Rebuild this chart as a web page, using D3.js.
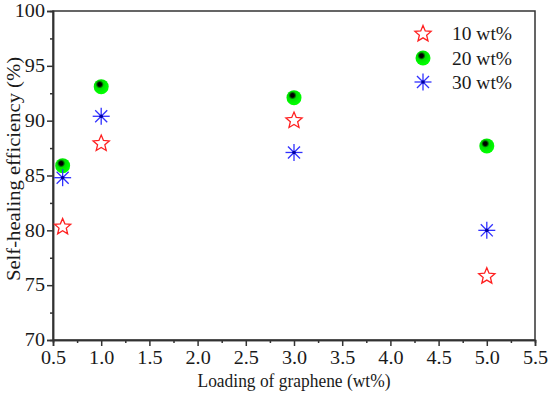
<!DOCTYPE html>
<html><head><meta charset="utf-8">
<script src="https://cdn.jsdelivr.net/npm/d3@7/dist/d3.min.js"></script>
<style>body{margin:0;background:#fff}svg{display:block} text{font-family:"Liberation Serif","Times New Roman",serif;}</style>
</head><body>
<svg id="c" width="550" height="396"></svg>
<script>
const loadings10 = [0.6, 1.0, 3.0, 5.0];
const values10 = [80.4, 88.0, 90.1, 75.9];
const loadings20 = [0.6, 1.0, 3.0, 5.0];
const values20 = [85.9, 93.1, 92.1, 87.7];
const loadings30 = [0.6, 1.0, 3.0, 5.0];
const values30 = [84.8, 90.4, 87.1, 80.0];
const seriesNames = ["10 wt%", "20 wt%", "30 wt%"];
const xTicks = [0.5,1.0,1.5,2.0,2.5,3.0,3.5,4.0,4.5,5.0,5.5];
const yTicks = [70,75,80,85,90,95,100];

const svg = d3.select("#c");
const m = {l:53, t:11, r:535, b:340};
const x = d3.scaleLinear().domain([0.5,5.5]).range([m.l,m.r]);
const y = d3.scaleLinear().domain([70,100]).range([m.b,m.t]);
const font = "Liberation Serif";

const defs = svg.append("defs");
const rg = defs.append("radialGradient").attr("id","gball").attr("cx","0.4").attr("cy","0.35").attr("r","0.6").attr("fx","0.4").attr("fy","0.35");
rg.append("stop").attr("offset","0").attr("stop-color","#000");
rg.append("stop").attr("offset","0.2").attr("stop-color","#000");
rg.append("stop").attr("offset","0.45").attr("stop-color","#00e000");
rg.append("stop").attr("offset","1").attr("stop-color","#00ff00");

const xAxis = d3.axisBottom(x).tickValues(xTicks).tickFormat(d3.format(".1f")).tickSizeOuter(0).tickSize(6).tickPadding(5);
const xMinor = d3.axisBottom(x).tickValues(d3.range(0.75,5.5,0.5)).tickFormat("").tickSizeOuter(0).tickSize(3);
const yAxis = d3.axisLeft(y).tickValues(yTicks).tickFormat(d3.format("d")).tickSizeOuter(0).tickSize(6).tickPadding(2);
const yMinor = d3.axisLeft(y).tickValues(d3.range(72.5,100,5)).tickFormat("").tickSizeOuter(0).tickSize(3);

function style(g){
  g.attr("font-family",font).attr("font-size",18);
  g.selectAll("path").attr("stroke","#333").attr("stroke-width",1.5);
  g.selectAll("line").attr("stroke","#333").attr("stroke-width",1.5);
  g.selectAll("text").attr("fill","#1a1a1a").attr("font-family",font).attr("font-size",18);
}
svg.append("g").attr("transform",`translate(0,${m.b})`).call(xMinor).call(style);
const gx = svg.append("g").attr("transform",`translate(0,${m.b})`).call(xAxis).call(style);
gx.selectAll("text").attr("transform","scale(1.12,1)").attr("x",function(d){return 0;});
svg.append("g").attr("transform",`translate(${m.l},0)`).call(yMinor).call(style);
const gy = svg.append("g").attr("transform",`translate(${m.l},0)`).call(yAxis).call(style);
gy.selectAll("text").attr("transform","scale(1.12,1)").attr("x",-8/1.12);

svg.append("rect").attr("x",m.l).attr("y",m.t).attr("width",m.r-m.l).attr("height",m.b-m.t)
  .attr("fill","none").attr("stroke","#333").attr("stroke-width",1.5);

svg.append("text").attr("x",(m.l+m.r)/2).attr("y",387).attr("text-anchor","middle")
  .attr("font-family",font).attr("font-size",18).attr("fill","#1a1a1a")
  .attr("textLength",193).attr("lengthAdjust","spacingAndGlyphs").text("Loading of graphene (wt%)");
svg.append("text").attr("transform",`translate(20,169) rotate(-90)`).attr("text-anchor","middle")
  .attr("font-family",font).attr("font-size",18).attr("fill","#1a1a1a")
  .attr("textLength",224).attr("lengthAdjust","spacingAndGlyphs").text("Self-healing efficiency (%)");

function starPath(R){
  const r = R*0.45, pts=[];
  for(let i=0;i<10;i++){const a=-Math.PI/2+i*Math.PI/5, rr=i%2?r:R; pts.push([rr*Math.cos(a), rr*Math.sin(a)]);}
  return "M"+pts.map(p=>p.join(",")).join("L")+"Z";
}
function drawStar(g,cx,cy){
  g.append("path").attr("d",starPath(8.5)).attr("transform",`translate(${cx},${cy+1})`)
   .attr("fill","none").attr("stroke","#ff2020").attr("stroke-width",1.3);
}
function drawBall(g,cx,cy){
  g.append("circle").attr("cx",cx).attr("cy",cy).attr("r",7.5).attr("fill","url(#gball)");
}
function drawAst(g,cx,cy){
  const R=8.5, s=g.append("g").attr("transform",`translate(${cx},${cy})`).attr("stroke","#3030ff").attr("stroke-width",1.3);
  for(let i=0;i<4;i++){const a=i*Math.PI/4; s.append("line").attr("x1",-R*Math.cos(a)).attr("y1",-R*Math.sin(a)).attr("x2",R*Math.cos(a)).attr("y2",R*Math.sin(a));}
  s.append("circle").attr("r",1.8).attr("fill","#0000a0").attr("stroke","none");
}
const pts = svg.append("g");
loadings10.forEach((d,i)=>drawStar(pts,x(d),y(values10[i])));
loadings20.forEach((d,i)=>drawBall(pts,x(d),y(values20[i])));
loadings30.forEach((d,i)=>drawAst(pts,x(d),y(values30[i])));

const leg = svg.append("g");
const drawers=[drawStar,drawBall,drawAst];
const ly=[33,58,82];
seriesNames.forEach((n,i)=>{
  drawers[i](leg,423,ly[i]);
  leg.append("text").attr("x",452).attr("y",ly[i]).attr("dy","0.35em")
    .attr("font-family",font).attr("font-size",19).attr("fill","#1a1a1a")
    .attr("textLength",60).attr("lengthAdjust","spacingAndGlyphs").text(n);
});
</script>
</body></html>
